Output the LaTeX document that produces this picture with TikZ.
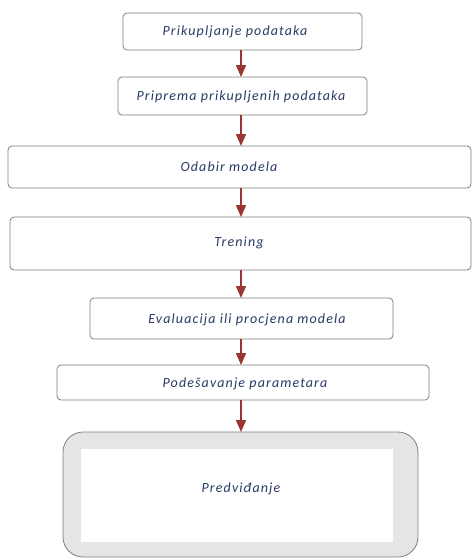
\documentclass[tikz,border=0pt]{standalone}
\usepackage{fontspec}
\setmainfont{Carlito}
\newfontfamily\lblfont[LetterSpace=8]{Carlito}
\usetikzlibrary{arrows.meta}
\definecolor{txt}{HTML}{2B3A67}
\definecolor{arr}{HTML}{9B3533}
\definecolor{edge}{HTML}{7F7F7F}
\definecolor{shell}{HTML}{E4E5E7}
\tikzset{
  stepbox/.style={draw=edge, line width=0.8pt, rounded corners=4pt, fill=white},
  lbl/.style={text=txt, font=\lblfont\itshape\fontsize{14}{16}\selectfont},
  flow/.style={draw=arr, line width=1.8pt, -{Triangle[length=12pt,width=10pt]}}
}
\begin{document}
\begin{tikzpicture}[x=1pt,y=-1pt]
\useasboundingbox (0,0) rectangle (472,558);
\draw[stepbox] (123,13) rectangle (362,50);
\node[lbl] (t1) at (235,32) {Prikupljanje podataka};
\coordinate (b1) at (241,50);
\draw[stepbox] (118,77) rectangle (367,115);
\node[lbl] (t2) at (241,97) {Priprema prikupljenih podataka};
\coordinate (a2) at (241,77);
\coordinate (b2) at (241,115);
\draw[stepbox] (8,146) rectangle (471,188);
\node[lbl] (t3) at (229,167) {Odabir modela};
\coordinate (a3) at (241,146);
\coordinate (b3) at (241,188);
\draw[stepbox] (10,217) rectangle (471,270);
\node[lbl] (t4) at (239,243) {Trening};
\coordinate (a4) at (241,217);
\coordinate (b4) at (241,270);
\draw[stepbox] (90,298) rectangle (393,339);
\node[lbl] (t5) at (247,320) {Evaluacija ili procjena modela};
\coordinate (a5) at (241,298);
\coordinate (b5) at (241,339);
\draw[stepbox] (57,365) rectangle (429,400);
\node[lbl] (t6) at (245,384) {Podešavanje parametara};
\coordinate (a6) at (241,365);
\coordinate (b6) at (241,400);
\draw[draw=edge, line width=0.8pt, fill=shell, rounded corners=20pt] (63,432) rectangle (418,557);
\fill[white] (81,449) rectangle (393,542);
\node[lbl] (t7) at (241,489) {Predviđanje};
\coordinate (a7) at (241,432);
\draw[flow] (b1) -- (a2);
\draw[flow] (b2) -- (a3);
\draw[flow] (b3) -- (a4);
\draw[flow] (b4) -- (a5);
\draw[flow] (b5) -- (a6);
\draw[flow] (b6) -- (a7);
\end{tikzpicture}
\end{document}
